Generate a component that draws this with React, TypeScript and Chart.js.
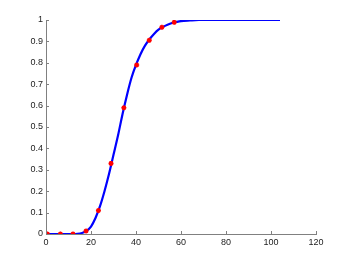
import React, { useEffect, useRef } from "react";
import { Chart, registerables } from "chart.js";

Chart.register(...registerables);

const curveX = [0, 4, 8, 12, 14, 16, 18, 20, 22, 24, 26, 28, 30, 32, 34, 36, 38, 40, 42, 44, 46, 48, 50, 52, 54, 56, 58, 60, 64, 68, 80, 104];
const curveY = [0, 0, 0, 0, 0.001, 0.005, 0.015, 0.035, 0.075, 0.13, 0.2, 0.28, 0.37, 0.46, 0.56, 0.65, 0.73, 0.79, 0.84, 0.88, 0.91, 0.935, 0.955, 0.968, 0.978, 0.986, 0.991, 0.995, 0.998, 1, 1, 1];

const markX = [0.6, 6.4, 12, 17.8, 23.3, 28.9, 34.6, 40.3, 45.9, 51.5, 57.0];
const markY = [0, 0, 0, 0.014, 0.11, 0.33, 0.59, 0.79, 0.905, 0.966, 0.989];

const xTicks = [0, 20, 40, 60, 80, 100, 120];
const yTicks = [0, 0.1, 0.2, 0.3, 0.4, 0.5, 0.6, 0.7, 0.8, 0.9, 1];

const inwardTicks = {
  id: "inwardTicks",
  afterDraw(chart: any) {
    const { ctx, chartArea, scales } = chart;
    ctx.save();
    ctx.strokeStyle = "#808080";
    ctx.lineWidth = 1;
    ctx.beginPath();
    for (const v of xTicks) {
      const px = Math.round(scales.x.getPixelForValue(v)) + 0.5;
      ctx.moveTo(px, chartArea.bottom);
      ctx.lineTo(px, chartArea.bottom - 3);
    }
    for (const v of yTicks) {
      const py = Math.round(scales.y.getPixelForValue(v)) + 0.5;
      ctx.moveTo(chartArea.left, py);
      ctx.lineTo(chartArea.left + 3, py);
    }
    ctx.stroke();
    ctx.restore();
  },
};

const fmt = (v: any) => String(+Number(v).toFixed(1));

export default function App() {
  const ref = useRef<HTMLCanvasElement>(null);
  useEffect(() => {
    const chart = new Chart(ref.current!, {
      type: "scatter",
      data: {
        datasets: [
          {
            type: "line",
            data: curveX.map((x, i) => ({ x, y: curveY[i] })),
            borderColor: "#0000ff",
            borderWidth: 2.2,
            pointRadius: 0,
            cubicInterpolationMode: "monotone",
            fill: false,
            order: 2,
          } as any,
          {
            type: "scatter",
            data: markX.map((x, i) => ({ x, y: markY[i] })),
            pointStyle: "star",
            pointRadius: 2.5,
            pointBorderColor: "#ff0000",
            pointBackgroundColor: "#ff0000",
            pointBorderWidth: 1.5,
            borderColor: "#ff0000",
            backgroundColor: "#ff0000",
            borderWidth: 1.5,
            order: 1,
          } as any,
        ],
      },
      options: {
        animation: false,
        responsive: false,
        layout: { padding: { left: 0, right: 34, top: 20, bottom: 0 } },
        plugins: { legend: { display: false }, tooltip: { enabled: false } },
        scales: {
          x: {
            type: "linear",
            min: 0,
            max: 120,
            afterBuildTicks: (s: any) => { s.ticks = xTicks.map((v) => ({ value: v })); },
            afterFit: (s: any) => { s.height = 29; },
            grid: { display: false, drawTicks: false },
            border: { display: true, color: "#808080", width: 1 },
            ticks: { padding: 3, color: "#222", font: { family: "Liberation Sans", size: 9 }, maxRotation: 0, callback: fmt },
          },
          y: {
            type: "linear",
            min: 0,
            max: 1,
            afterBuildTicks: (s: any) => { s.ticks = yTicks.map((v) => ({ value: v })); },
            afterFit: (s: any) => { s.width = 46; },
            grid: { display: false, drawTicks: false },
            border: { display: true, color: "#808080", width: 1 },
            ticks: { padding: 3, color: "#222", font: { family: "Liberation Sans", size: 9 }, callback: fmt },
          },
        },
      },
      plugins: [inwardTicks],
    });
    return () => chart.destroy();
  }, []);
  return (
    <div style={{ position: "fixed", left: 0, top: 0, width: 350, height: 263, background: "#fff" }}>
      <canvas ref={ref} width={350} height={263} />
    </div>
  );
}
